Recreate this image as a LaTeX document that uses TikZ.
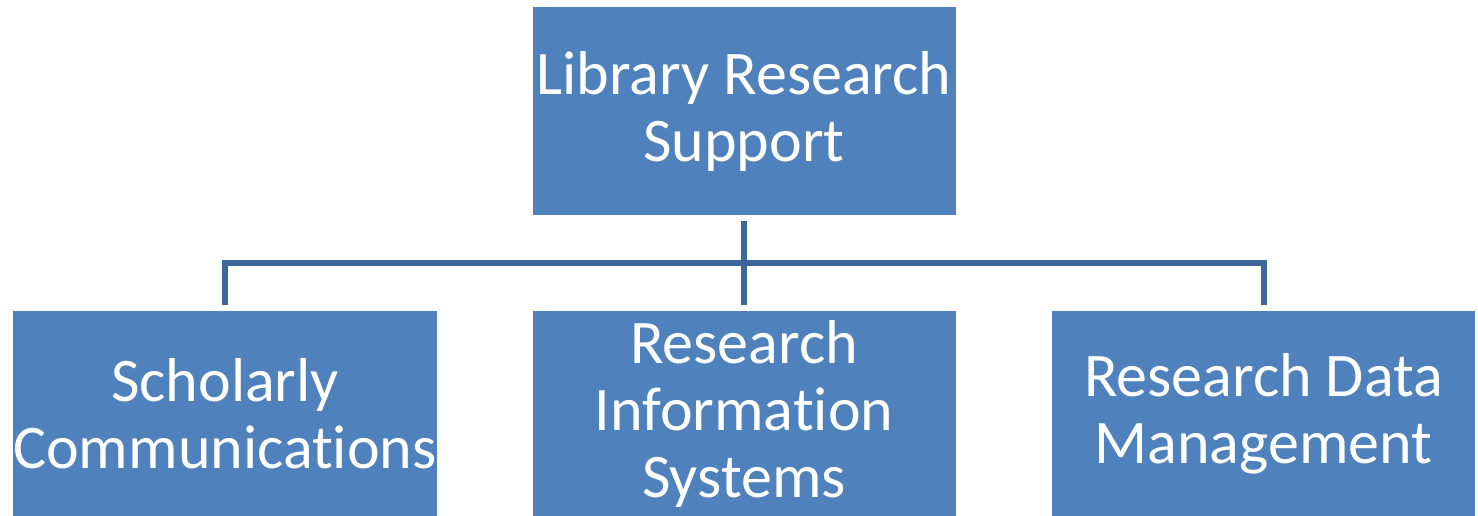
\documentclass[tikz,border=0pt]{standalone}
\usepackage{fontspec}
\setmainfont[Ligatures=NoCommon]{Carlito}
\usepackage{xcolor}
\definecolor{boxblue}{HTML}{4F81BD}
\definecolor{lineblue}{HTML}{3D679B}

\begin{document}
\begin{tikzpicture}[x=1pt,y=-1pt,
    unit/.style={fill=boxblue, text=white, align=center, inner sep=0pt,
        minimum width=423pt, font=\fontsize{62}{67}\selectfont},
    link/.style={draw=lineblue, line width=6pt, line join=miter}]
    \useasboundingbox (0,0) rectangle (1478,516);

    \node (lrs) at (744,111) [unit, minimum height=208pt] {Library Research\\Support};
    \node (sc) at (225,413.5) [unit, minimum height=205pt] {Scholarly\\Communications};
    \node (ris) at (744,413.5) [unit, minimum height=205pt] {Research\\Information\\Systems};
    \node (rdm) at (1263.5,413.5) [unit, minimum height=205pt] {Research Data\\Management};
    \coordinate (bus) at (744,263);

    \draw[link] ([yshift=-6pt]lrs.south) -- ([yshift=6pt]ris.north);
    \draw[link] ([yshift=6pt]sc.north) -- (sc.north |- bus) -- (rdm.north |- bus) -- ([yshift=6pt]rdm.north);
\end{tikzpicture}
\end{document}
